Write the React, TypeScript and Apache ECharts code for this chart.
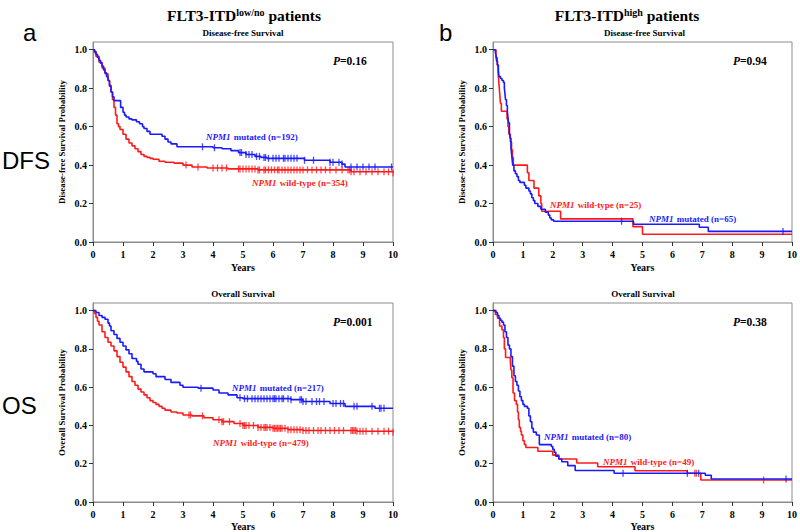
import React, { useEffect, useRef } from 'react';
import * as echarts from 'echarts';

// ---------- Data ----------
const xTicks = [0, 1, 2, 3, 4, 5, 6, 7, 8, 9, 10];
const yTicks = [0, 0.2, 0.4, 0.6, 0.8, 1.0];

// Panel a – DFS (FLT3-ITD low/no)
const aDfsMutT = [0, 0.05, 0.1, 0.15, 0.2, 0.25, 0.3, 0.35, 0.4, 0.45, 0.5, 0.55, 0.6, 0.65, 0.7, 0.92, 1.0, 1.05, 1.1, 1.2, 1.3, 1.45, 1.55, 1.65, 1.7, 1.8, 1.9, 2.3, 2.4, 2.5, 2.6, 2.8, 4.0, 4.3, 4.6, 4.85, 5.1, 5.4, 5.6, 5.8, 7.05, 7.9, 8.3, 8.4, 10];
const aDfsMutS = [1, 0.99, 0.975, 0.96, 0.945, 0.93, 0.915, 0.895, 0.88, 0.86, 0.84, 0.81, 0.78, 0.755, 0.735, 0.70, 0.675, 0.66, 0.65, 0.64, 0.635, 0.625, 0.615, 0.60, 0.59, 0.575, 0.56, 0.55, 0.535, 0.52, 0.51, 0.495, 0.49, 0.485, 0.475, 0.465, 0.455, 0.445, 0.44, 0.435, 0.425, 0.415, 0.405, 0.39, 0.39];
const aDfsMutCensor = [3.65, 4.05, 4.9, 4.95, 5.1, 5.2, 5.3, 5.45, 5.55, 5.7, 5.75, 5.85, 6.0, 6.1, 6.2, 6.35, 6.4, 6.5, 6.6, 6.7, 6.8, 7.05, 7.35, 7.9, 8.0, 8.2, 8.3, 8.6, 8.8, 9.0, 9.2, 9.4, 9.95];
const aDfsWtT = [0, 0.05, 0.1, 0.2, 0.3, 0.4, 0.5, 0.55, 0.6, 0.65, 0.7, 0.75, 0.8, 0.85, 0.9, 1.0, 1.1, 1.2, 1.3, 1.4, 1.5, 1.6, 1.7, 1.8, 1.9, 2.0, 2.2, 2.4, 2.7, 3.0, 3.3, 3.8, 4.5, 5.5, 8.6, 10];
const aDfsWtS = [1, 0.985, 0.965, 0.935, 0.905, 0.875, 0.84, 0.815, 0.78, 0.74, 0.70, 0.66, 0.615, 0.60, 0.585, 0.56, 0.535, 0.515, 0.50, 0.485, 0.47, 0.455, 0.445, 0.44, 0.435, 0.43, 0.42, 0.415, 0.41, 0.40, 0.39, 0.385, 0.38, 0.375, 0.365, 0.36];
const aDfsWtCensor = [3.1, 3.5, 4.0, 4.15, 4.3, 4.45, 4.85, 4.9, 5.0, 5.1, 5.2, 5.3, 5.4, 5.5, 5.55, 5.7, 5.75, 5.85, 5.95, 6.05, 6.15, 6.2, 6.3, 6.4, 6.5, 6.6, 6.7, 6.8, 6.9, 7.0, 7.15, 7.3, 7.45, 7.6, 7.75, 7.9, 8.1, 8.3, 8.5, 8.55, 8.6, 8.7, 8.9, 9.1, 9.3, 9.5, 9.7, 9.85, 10.0];

// Panel b – DFS (FLT3-ITD high)
const bDfsMutT = [0, 0.08, 0.1, 0.12, 0.15, 0.18, 0.2, 0.25, 0.3, 0.35, 0.38, 0.4, 0.42, 0.45, 0.48, 0.5, 0.52, 0.55, 0.57, 0.6, 0.62, 0.64, 0.66, 0.7, 0.75, 0.8, 0.85, 0.9, 1.05, 1.1, 1.2, 1.25, 1.3, 1.35, 1.4, 1.5, 1.6, 1.75, 1.85, 1.9, 1.95, 2.03, 4.7, 6.9, 7.2, 10];
const bDfsMutS = [1, 0.985, 0.97, 0.94, 0.92, 0.89, 0.86, 0.85, 0.84, 0.83, 0.8, 0.77, 0.74, 0.71, 0.68, 0.65, 0.62, 0.57, 0.54, 0.49, 0.46, 0.43, 0.40, 0.37, 0.355, 0.34, 0.32, 0.31, 0.295, 0.28, 0.265, 0.25, 0.23, 0.215, 0.20, 0.185, 0.17, 0.155, 0.14, 0.125, 0.115, 0.108, 0.092, 0.077, 0.055, 0.055];
const bDfsMutCensor = [4.3, 9.7];
const bDfsWtT = [0, 0.1, 0.14, 0.17, 0.19, 0.21, 0.23, 0.25, 0.28, 0.47, 0.5, 0.53, 0.58, 0.62, 0.65, 0.68, 1.15, 1.2, 1.37, 1.53, 1.6, 1.63, 2.26, 4.68, 5.0, 10];
const bDfsWtS = [1, 0.96, 0.92, 0.88, 0.84, 0.80, 0.76, 0.72, 0.68, 0.64, 0.60, 0.56, 0.52, 0.48, 0.44, 0.40, 0.36, 0.32, 0.28, 0.24, 0.20, 0.16, 0.12, 0.08, 0.04, 0.04];
const bDfsWtCensor: number[] = [];

// Panel a – OS
const aOsMutT = [0, 0.1, 0.2, 0.3, 0.4, 0.5, 0.55, 0.6, 0.7, 0.8, 0.9, 1.0, 1.1, 1.2, 1.3, 1.45, 1.5, 1.6, 1.7, 2.0, 2.1, 2.4, 2.6, 2.9, 3.0, 3.5, 4.0, 4.2, 4.5, 4.8, 5.0, 6.6, 7.0, 7.9, 8.4, 9.4, 10];
const aOsMutS = [1, 0.99, 0.975, 0.965, 0.955, 0.935, 0.92, 0.895, 0.875, 0.855, 0.835, 0.815, 0.795, 0.775, 0.75, 0.735, 0.72, 0.695, 0.68, 0.67, 0.655, 0.64, 0.625, 0.61, 0.60, 0.595, 0.585, 0.57, 0.56, 0.545, 0.54, 0.535, 0.525, 0.515, 0.50, 0.49, 0.487];
const aOsMutCensor = [3.6, 4.9, 5.05, 5.15, 5.3, 5.4, 5.5, 5.6, 5.7, 5.8, 5.9, 6.0, 6.05, 6.1, 6.2, 6.3, 6.35, 6.5, 6.6, 6.9, 6.95, 7.0, 7.1, 7.3, 7.45, 7.55, 7.7, 8.0, 8.1, 8.25, 8.35, 8.7, 8.8, 9.3, 9.55, 9.6, 9.7];
const aOsWtT = [0, 0.05, 0.1, 0.15, 0.2, 0.3, 0.4, 0.5, 0.6, 0.7, 0.8, 0.9, 1.0, 1.1, 1.2, 1.3, 1.4, 1.5, 1.6, 1.7, 1.8, 1.9, 2.0, 2.1, 2.2, 2.3, 2.4, 2.6, 2.8, 3.0, 3.3, 3.7, 4.0, 4.3, 4.7, 5.0, 5.5, 6.0, 6.5, 7.0, 8.8, 10];
const aOsWtS = [1, 0.985, 0.965, 0.945, 0.925, 0.89, 0.86, 0.835, 0.815, 0.79, 0.76, 0.73, 0.705, 0.68, 0.655, 0.63, 0.61, 0.59, 0.575, 0.56, 0.545, 0.53, 0.52, 0.51, 0.50, 0.49, 0.48, 0.47, 0.465, 0.455, 0.45, 0.44, 0.43, 0.42, 0.41, 0.40, 0.39, 0.385, 0.378, 0.374, 0.37, 0.365];
const aOsWtCensor = [3.2, 3.25, 3.65, 4.2, 4.3, 4.35, 4.55, 4.9, 5.0, 5.05, 5.1, 5.2, 5.35, 5.5, 5.6, 5.7, 5.75, 5.8, 5.9, 6.0, 6.05, 6.1, 6.15, 6.2, 6.25, 6.3, 6.4, 6.5, 6.6, 6.7, 6.8, 6.9, 7.0, 7.1, 7.2, 7.35, 7.5, 7.6, 7.75, 7.9, 8.05, 8.2, 8.35, 8.6, 8.65, 8.7, 8.75, 8.8, 8.9, 9.0, 9.1, 9.3, 9.5, 9.7, 9.85, 10];

// Panel b – OS
const bOsMutT = [0, 0.1, 0.15, 0.2, 0.25, 0.3, 0.35, 0.4, 0.45, 0.5, 0.55, 0.6, 0.65, 0.7, 0.75, 0.8, 0.85, 0.9, 0.95, 1.0, 1.05, 1.15, 1.2, 1.25, 1.3, 1.35, 1.45, 1.55, 1.95, 2.0, 2.05, 2.1, 2.2, 2.3, 2.5, 2.75, 4.05, 7.1, 7.3, 10];
const bOsMutS = [1, 0.99, 0.975, 0.96, 0.95, 0.94, 0.925, 0.89, 0.86, 0.82, 0.80, 0.76, 0.71, 0.66, 0.63, 0.61, 0.58, 0.55, 0.53, 0.51, 0.50, 0.49, 0.45, 0.42, 0.385, 0.365, 0.35, 0.30, 0.29, 0.275, 0.26, 0.24, 0.225, 0.21, 0.19, 0.165, 0.15, 0.14, 0.12, 0.12];
const bOsMutCensor = [4.35, 6.5, 6.88, 9.8];
const bOsWtT = [0, 0.08, 0.15, 0.22, 0.3, 0.35, 0.38, 0.42, 0.58, 0.6, 0.63, 0.67, 0.72, 0.78, 0.82, 0.85, 0.88, 0.92, 0.95, 1.0, 1.05, 1.1, 1.5, 2.0, 2.2, 2.8, 3.5, 4.75, 6.5, 6.95, 10];
const bOsWtS = [1, 0.98, 0.96, 0.92, 0.90, 0.86, 0.80, 0.755, 0.735, 0.69, 0.65, 0.57, 0.53, 0.51, 0.47, 0.43, 0.39, 0.37, 0.35, 0.32, 0.30, 0.285, 0.265, 0.245, 0.225, 0.204, 0.184, 0.163, 0.15, 0.115, 0.115];
const bOsWtCensor = [6.75, 6.8, 9.05];

// Texts
const panelTitles = ['Disease-free Survival', 'Disease-free Survival', 'Overall Survival', 'Overall Survival'];
const yNames = ['Disease-free Survival Probability', 'Disease-free Survival Probability', 'Overall Survival Probability', 'Overall Survival Probability'];
const pValues = ['=0.16', '=0.94', '=0.001', '=0.38'];
const mutLabels = ['mutated (n=192)', 'mutated (n=65)', 'mutated (n=217)', 'mutated (n=80)'];
const wtLabels = ['wild-type (n=354)', 'wild-type (n=25)', 'wild-type (n=479)', 'wild-type (n=49)'];

// ---------- Styling / layout ----------
const SERIF = 'Liberation Serif, Times New Roman, serif';
const SANS = 'Liberation Sans, Arial, sans-serif';
const BLUE = '#1a1aff';
const RED = '#ff1a1a';
const FRAME = '#8c8c8c';

const grids = [
  { left: 93, top: 42, width: 300, height: 200 },
  { left: 493, top: 42, width: 303, height: 200 },
  { left: 93, top: 303, width: 300, height: 201 },
  { left: 493, top: 303, width: 300, height: 201 },
];

const curves = [
  { mutT: aDfsMutT, mutS: aDfsMutS, mutC: aDfsMutCensor, wtT: aDfsWtT, wtS: aDfsWtS, wtC: aDfsWtCensor },
  { mutT: bDfsMutT, mutS: bDfsMutS, mutC: bDfsMutCensor, wtT: bDfsWtT, wtS: bDfsWtS, wtC: bDfsWtCensor },
  { mutT: aOsMutT, mutS: aOsMutS, mutC: aOsMutCensor, wtT: aOsWtT, wtS: aOsWtS, wtC: aOsWtCensor },
  { mutT: bOsMutT, mutS: bOsMutS, mutC: bOsMutCensor, wtT: bOsWtT, wtS: bOsWtS, wtC: bOsWtCensor },
];

// label positions: [mutX, mutY, wtX, wtY]
const labelPos = [
  [206, 137, 252, 183],
  [649, 219, 550, 205],
  [232, 388, 213, 443],
  [544, 437, 603, 462],
];

function stepValue(t: number[], s: number[], x: number) {
  let v = s[0];
  for (let i = 0; i < t.length; i++) {
    if (t[i] <= x + 1e-9) v = s[i];
    else break;
  }
  return v;
}

function seriesLabel(x: number, y: number, rest: string, color: string) {
  return {
    type: 'text',
    x,
    y,
    style: {
      text: '{i|NPM1} {b|' + rest + '}',
      fill: color,
      align: 'left',
      verticalAlign: 'middle',
      textAlign: 'left',
      textVerticalAlign: 'middle',
      rich: {
        i: { fontFamily: SERIF, fontStyle: 'italic', fontWeight: 'bold', fontSize: 9, fill: color },
        b: { fontFamily: SERIF, fontWeight: 'bold', fontSize: 9, fill: color },
      },
    },
  };
}

function plainText(x: number, y: number, text: string, font: any, align = 'center') {
  return {
    type: 'text',
    x,
    y,
    style: {
      text,
      fill: '#000',
      align,
      verticalAlign: 'middle',
      textAlign: align,
      textVerticalAlign: 'middle',
      ...font,
    },
  };
}

export default function App() {
  const ref = useRef<HTMLDivElement>(null);

  useEffect(() => {
    if (!ref.current) return;
    const chart = echarts.init(ref.current, null, { renderer: 'svg' });

    const xAxis = grids.map((_, i) => ({
      type: 'value',
      gridIndex: i,
      min: 0,
      max: 10,
      interval: 1,
      name: 'Years',
      nameLocation: 'middle',
      nameGap: i < 2 ? 20 : 19,
      nameTextStyle: { fontFamily: SERIF, fontWeight: 'bold', fontSize: 10, color: '#000' },
      axisLine: { show: true, onZero: false, lineStyle: { color: FRAME, width: 1 } },
      axisTick: { show: true, length: 4, lineStyle: { color: '#333' }, customValues: xTicks },
      axisLabel: { fontFamily: SERIF, fontWeight: 'bold', fontSize: 10, color: '#000', margin: 7, customValues: xTicks },
      splitLine: { show: false },
    }));

    const yAxis = grids.map((_, i) => ({
      type: 'value',
      gridIndex: i,
      min: 0,
      max: 1.04,
      interval: 0.2,
      name: yNames[i],
      nameLocation: 'middle',
      nameGap: 27,
      nameRotate: 90,
      nameTextStyle: { fontFamily: SERIF, fontWeight: 'bold', fontSize: 8.8, color: '#000' },
      axisLine: { show: true, onZero: false, lineStyle: { color: FRAME, width: 1 } },
      axisTick: { show: true, length: 4, lineStyle: { color: '#333' }, customValues: yTicks },
      axisLabel: {
        fontFamily: SERIF,
        fontWeight: 'bold',
        fontSize: 10,
        color: '#000',
        margin: 6,
        customValues: yTicks,
        formatter: (v: number) => (Math.abs(v * 5 - Math.round(v * 5)) < 1e-6 ? v.toFixed(1) : ''),
      },
      splitLine: { show: false },
    }));

    const series: any[] = [];
    curves.forEach((c, i) => {
      series.push({
        type: 'line',
        xAxisIndex: i,
        yAxisIndex: i,
        step: 'end',
        showSymbol: false,
        data: c.wtT.map((t, k) => [t, c.wtS[k]]),
        lineStyle: { color: RED, width: 1.6 },
        itemStyle: { color: RED },
        z: 2,
      });
      series.push({
        type: 'line',
        xAxisIndex: i,
        yAxisIndex: i,
        step: 'end',
        showSymbol: false,
        data: c.mutT.map((t, k) => [t, c.mutS[k]]),
        lineStyle: { color: BLUE, width: 1.6 },
        itemStyle: { color: BLUE },
        z: 3,
      });
      series.push({
        type: 'scatter',
        xAxisIndex: i,
        yAxisIndex: i,
        symbol: 'rect',
        symbolSize: [1.3, 7],
        data: c.wtC.map((t) => [t, stepValue(c.wtT, c.wtS, t)]),
        itemStyle: { color: RED },
        z: 2,
      });
      series.push({
        type: 'scatter',
        xAxisIndex: i,
        yAxisIndex: i,
        symbol: 'rect',
        symbolSize: [1.3, 7],
        data: c.mutC.map((t) => [t, stepValue(c.mutT, c.mutS, t)]),
        itemStyle: { color: BLUE },
        z: 3,
      });
    });

    const graphic: any[] = [];
    const titleRich = {
      a: { fontFamily: SERIF, fontWeight: 'bold', fontSize: 15.5, fill: '#000' },
      s: { fontFamily: SERIF, fontWeight: 'bold', fontSize: 10, fill: '#000', verticalAlign: 'top' },
    };
    graphic.push({
      type: 'text', x: 244, y: 15,
      style: { text: '{a|FLT3-ITD}{s|low/no}{a| patients}', align: 'center', verticalAlign: 'middle', textAlign: 'center', textVerticalAlign: 'middle', rich: titleRich },
    });
    graphic.push({
      type: 'text', x: 627, y: 15,
      style: { text: '{a|FLT3-ITD}{s|high}{a| patients}', align: 'center', verticalAlign: 'middle', textAlign: 'center', textVerticalAlign: 'middle', rich: titleRich },
    });
    const big = { fontFamily: SANS, fontSize: 24, fontWeight: 'normal' };
    graphic.push(plainText(23, 32, 'a', big, 'left'));
    graphic.push(plainText(439, 32, 'b', big, 'left'));
    graphic.push(plainText(2, 160, 'DFS', big, 'left'));
    graphic.push(plainText(2, 405, 'OS', big, 'left'));

    grids.forEach((g, i) => {
      const cx = g.left + g.width / 2;
      graphic.push(plainText(cx, g.top - 9, panelTitles[i], { fontFamily: SERIF, fontWeight: 'bold', fontSize: 9 }));
      graphic.push({
        type: 'text',
        x: g.left + 240,
        y: g.top + 19,
        style: {
          text: '{p|P}{n|' + pValues[i] + '}',
          align: 'left', verticalAlign: 'middle', textAlign: 'left', textVerticalAlign: 'middle',
          rich: {
            p: { fontFamily: SERIF, fontStyle: 'italic', fontWeight: 'bold', fontSize: 11.5, fill: '#000' },
            n: { fontFamily: SERIF, fontWeight: 'bold', fontSize: 11.5, fill: '#000' },
          },
        },
      });
      const lp = labelPos[i];
      graphic.push(seriesLabel(lp[0], lp[1], mutLabels[i], BLUE));
      graphic.push(seriesLabel(lp[2], lp[3], wtLabels[i], RED));
    });

    chart.setOption({
      animation: false,
      backgroundColor: '#ffffff',
      grid: grids.map((g) => ({ ...g, show: true, borderColor: FRAME, borderWidth: 1, backgroundColor: 'transparent', containLabel: false })),
      xAxis,
      yAxis,
      series,
      graphic,
    });

    return () => chart.dispose();
  }, []);

  return <div ref={ref} style={{ position: 'absolute', left: 0, top: 0, width: 800, height: 532 }} />;
}
